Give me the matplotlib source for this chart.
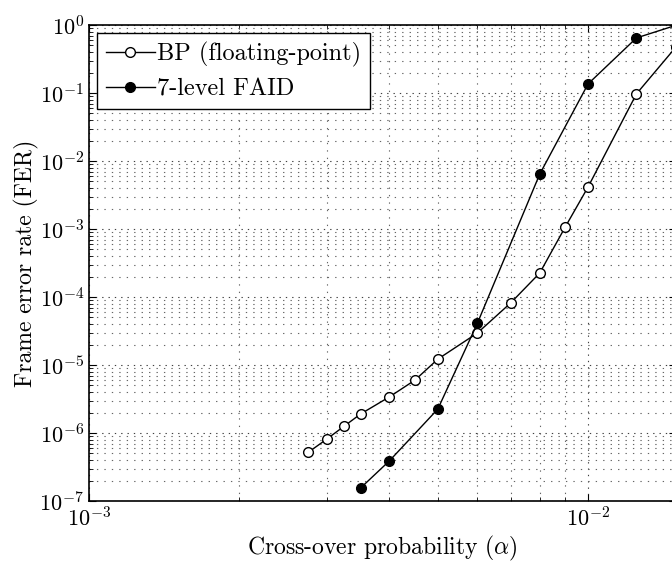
#!/usr/bin/env python3
"""
FER vs cross-over probability: BP (floating-point) vs 7-level FAID
"""

import matplotlib
matplotlib.use('Agg')
import matplotlib.pyplot as plt
from matplotlib.ticker import LogLocator, NullFormatter

matplotlib.rcParams['font.family'] = 'serif'
matplotlib.rcParams['font.serif'] = ['cmr10', 'DejaVu Serif']
matplotlib.rcParams['mathtext.fontset'] = 'cm'
matplotlib.rcParams['axes.formatter.use_mathtext'] = True

# data
bp_alpha = [0.00275, 0.003, 0.00325, 0.0035, 0.004, 0.0045, 0.005, 0.006,
            0.007, 0.008, 0.009, 0.01, 0.0125, 0.015]
bp_fer = [5.2e-7, 8.2e-7, 1.27e-6, 1.9e-6, 3.4e-6, 6.0e-6, 1.22e-5, 2.95e-5,
          8.2e-5, 2.25e-4, 1.07e-3, 4.15e-3, 9.7e-2, 0.475]

faid_alpha = [0.0035, 0.004, 0.005, 0.006, 0.008, 0.01, 0.0125, 0.015]
faid_fer = [1.55e-7, 3.9e-7, 2.25e-6, 4.1e-5, 6.4e-3, 0.136, 0.645, 0.99]

fig = plt.figure(figsize=(6.72, 5.64), dpi=100)
ax = fig.add_axes([0.1324, 0.1117, 0.8735, 0.8440])

ax.plot(bp_alpha, bp_fer, color='k', linewidth=1.0, marker='o',
        markersize=7, markerfacecolor='white', markeredgecolor='k',
        markeredgewidth=1.0, label='BP (floating-point)')
ax.plot(faid_alpha, faid_fer, color='k', linewidth=1.0, marker='o',
        markersize=7, markerfacecolor='k', markeredgecolor='k',
        label='7-level FAID')

ax.set_xscale('log')
ax.set_yscale('log')
ax.set_xlim(1e-3, 0.015)
ax.set_ylim(1e-7, 1)

ax.xaxis.set_major_locator(LogLocator(base=10, numticks=10))
ax.xaxis.set_minor_locator(LogLocator(base=10, subs=range(2, 10), numticks=20))
ax.yaxis.set_major_locator(LogLocator(base=10, numticks=10))
ax.yaxis.set_minor_locator(LogLocator(base=10, subs=range(2, 10), numticks=20))
ax.xaxis.set_minor_formatter(NullFormatter())
ax.yaxis.set_minor_formatter(NullFormatter())

ax.tick_params(which='both', direction='in', labelsize=16, top=True, right=True)
ax.tick_params(which='major', length=5)
ax.tick_params(which='minor', length=3)

# sparse dotted grid, MATLAB style
ax.grid(True, which='major', linestyle=(0, (1.2, 4.5)), color='0.25', linewidth=0.8)
ax.grid(True, which='minor', linestyle=(0, (1.2, 5.5)), color='0.4', linewidth=0.8)

for spine in ax.spines.values():
    spine.set_linewidth(1.2)

ax.set_xlabel(r'Cross-over probability ($\alpha$)', fontsize=17, labelpad=3)
ax.set_ylabel('Frame error rate (FER)', fontsize=17, labelpad=0)

leg = ax.legend(loc='upper left', fontsize=17.5, fancybox=False, framealpha=1,
                edgecolor='k', borderaxespad=0.35, handlelength=2.0,
                handletextpad=0.1, borderpad=0.35, labelspacing=0.45)
leg.get_frame().set_linewidth(1.0)

fig.savefig('out.png', dpi=100)
